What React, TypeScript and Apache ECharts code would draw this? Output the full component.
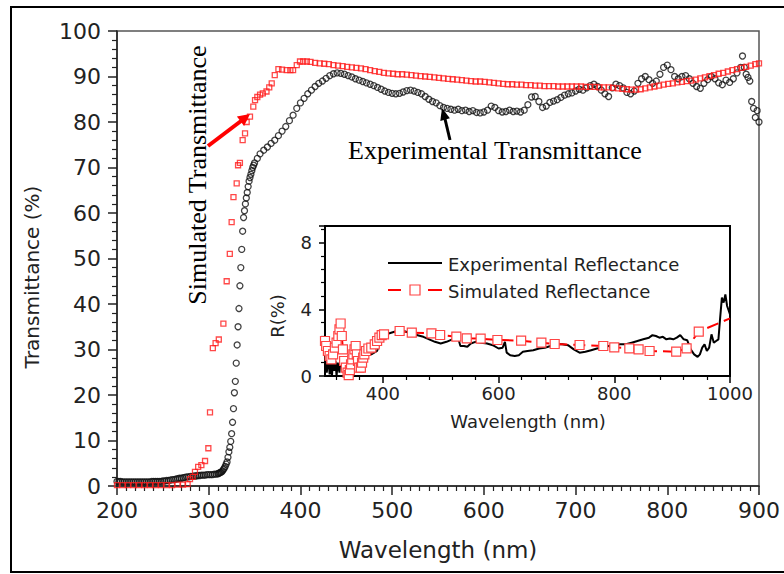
import React, { useEffect, useRef } from 'react';
import * as echarts from 'echarts';

// ---------- Data ----------
// Main panel: experimental transmittance [wavelength nm, T %]
const expTransmittance: [number, number][] = [
  [200, 1.0], [202, 1.0], [204, 1.0], [206, 0.9], [208, 0.9], [210, 0.9], [212, 0.9], [214, 0.9],
  [216, 0.9], [218, 0.9], [220, 0.9], [222, 0.9], [224, 0.9], [226, 0.9], [228, 0.9], [230, 0.9],
  [232, 0.9], [234, 0.9], [236, 0.9], [238, 1.0], [240, 1.0], [242, 1.0], [244, 1.0], [246, 1.0],
  [248, 1.0], [250, 1.1], [252, 1.1], [254, 1.2], [256, 1.2], [258, 1.3], [260, 1.4], [262, 1.4],
  [264, 1.5], [266, 1.6], [268, 1.7], [270, 1.7], [272, 1.8], [274, 1.9], [276, 2.0], [278, 2.0],
  [280, 2.1], [282, 2.1], [284, 2.2], [286, 2.2], [288, 2.3], [290, 2.3], [292, 2.4], [294, 2.4],
  [296, 2.4], [298, 2.5], [300, 2.5], [302, 2.5], [304, 2.5], [306, 2.6], [308, 2.6], [310, 2.7],
  [311, 2.8], [312, 2.9], [313, 3.0], [314, 3.1], [315, 3.3], [316, 3.6], [317, 3.9], [318, 4.3],
  [319, 4.8], [320, 5.3], [321, 6.3], [322, 7.5], [323, 8.5], [324, 9.8], [325, 11.5], [326, 14], [327, 17],
  [328, 20.5], [329, 23], [330, 27], [331, 31], [332, 35], [333, 39], [334, 44], [335, 48],
  [336, 52], [337, 56], [338, 59], [339, 60.5], [340, 62], [341, 63.3], [342, 64.5], [343, 65.8], [344, 67],
  [345, 67.8], [346, 68.5], [347, 69.3], [348, 70], [349, 70.5],
  [350, 71], [353, 72], [356, 73], [360, 73.8], [364, 74.5], [368, 75.3], [372, 76], [376, 77],
  [380, 78], [384, 79], [388, 80.3], [392, 81.5], [396, 83], [400, 84.2], [404, 85.2], [408, 86.2],
  [412, 87], [416, 87.8], [420, 88.5], [424, 89], [428, 89.6], [432, 90.2], [436, 90.6], [440, 90.8],
  [444, 90.7], [448, 90.5], [452, 90.2], [456, 89.9], [460, 89.5], [464, 89.2], [468, 88.9], [472, 88.6],
  [476, 88.3], [480, 88], [484, 87.6], [488, 87.2], [492, 86.8], [496, 86.5], [500, 86.3], [504, 86.2],
  [508, 86.3], [512, 86.6], [516, 86.9], [520, 87], [524, 86.8], [528, 86.5], [532, 86.2], [536, 85.6],
  [540, 85], [544, 84.5], [548, 84.2], [552, 83.6], [556, 83.2], [560, 83], [564, 82.8], [568, 82.6],
  [572, 82.8], [576, 82.5], [580, 82.6], [584, 82.3], [588, 82.5], [592, 82.1], [596, 82], [600, 82.2],
  [604, 82.6], [608, 83.5], [612, 83.2], [616, 82.5], [620, 82.2], [624, 82.3], [628, 82.6], [632, 82.3],
  [636, 82.4], [640, 82.2], [644, 82.6], [648, 83.8], [652, 85.5], [656, 85.6], [660, 84.5], [664, 83.2],
  [668, 83.5], [672, 84.3], [676, 84.6], [680, 84.9], [684, 85.4], [688, 85.9], [692, 86.2], [696, 86.4],
  [700, 86.8], [704, 87.2], [708, 87], [712, 87.5], [716, 88], [720, 88.3], [724, 87.8], [728, 87],
  [732, 86.2], [736, 85.6], [740, 87.5], [744, 88.3], [748, 88], [752, 87.5], [756, 86.5], [760, 86.2],
  [764, 86.8], [768, 88.5], [772, 89.5], [776, 90], [780, 89.3], [784, 88.5], [788, 89], [792, 90.5],
  [796, 92], [800, 92.5], [804, 91.5], [808, 90], [812, 89.5], [816, 90], [820, 90.2], [824, 89.5],
  [828, 88.5], [832, 87.8], [836, 87.4], [840, 88.5], [844, 89.3], [848, 90], [852, 89.5], [856, 88.6],
  [860, 88.2], [864, 89.2], [868, 88.7], [872, 89.5], [876, 90.8], [880, 92], [882, 94.5], [884, 92],
  [886, 90.5], [888, 89.8], [890, 89], [892, 84.5], [894, 83], [896, 81], [898, 82.5], [900, 80]
];

// Main panel: simulated transmittance [wavelength nm, T %]
const simTransmittance: [number, number][] = [
  [200, 0.2], [206, 0.2], [212, 0.2], [218, 0.2], [224, 0.2], [230, 0.2], [236, 0.2], [242, 0.2],
  [248, 0.2], [254, 0.2], [260, 0.2], [266, 0.3], [272, 0.3], [277, 0.4], [279.6, 1.5], [282.5, 2],
  [285, 3.1], [288.5, 4.2], [292, 4.6], [296, 5.5], [299.6, 8.3], [301.4, 16.2], [304.5, 30.3],
  [307.5, 31.4], [311, 32.2], [316, 35.7], [319.6, 45], [323, 51], [325, 58], [327, 63.5],
  [330.5, 66.5], [332, 70.5], [334, 71], [337, 76], [339.6, 77.5], [341.4, 80], [345, 81.2],
  [348.6, 83.4], [350.5, 84.8], [353, 85.5], [356, 86], [359, 86.3], [363, 86.7], [366, 87.6],
  [368.7, 88.5], [372, 90.3], [376, 91.6], [380, 91.5], [385, 91.4], [389, 91.4], [392, 91.4],
  [396, 92.5], [399.5, 93.3], [403, 93.3], [407, 93.3], [411, 93.2], [416, 93], [421, 92.9],
  [426, 92.8], [431, 92.7], [436, 92.5], [441, 92.4], [446, 92.3], [451, 92.1], [456, 92],
  [461, 91.9], [466, 91.8], [471, 91.6], [476, 91.4], [481, 91.2], [486, 91], [491, 90.8],
  [496, 90.7], [501, 90.6], [506, 90.5], [511, 90.5], [516, 90.4], [521, 90.3], [526, 90.2],
  [531, 90.1], [536, 90], [541, 89.9], [546, 89.8], [551, 89.7], [556, 89.6], [561, 89.5],
  [566, 89.4], [571, 89.3], [576, 89.2], [581, 89.1], [586, 89], [591, 88.9], [596, 88.9],
  [601, 88.8], [606, 88.7], [611, 88.6], [616, 88.5], [621, 88.4], [626, 88.3], [631, 88.3],
  [636, 88.2], [641, 88.2], [646, 88.1], [651, 88.1], [656, 88], [661, 88], [666, 87.9],
  [671, 87.9], [676, 87.9], [681, 87.8], [686, 87.8], [691, 87.8], [696, 87.8], [701, 87.8],
  [706, 87.8], [711, 87.7], [716, 87.7], [721, 87.7], [726, 87.6], [731, 87.6], [736, 87.6],
  [741, 87.5], [746, 87.4], [751, 87.3], [756, 87.2], [761, 87.1], [766, 87.1], [771, 87.2],
  [776, 87.4], [781, 87.6], [786, 87.8], [791, 88], [796, 88.2], [801, 88.4], [806, 88.5],
  [811, 88.7], [816, 88.8], [821, 89], [826, 89.1], [831, 89.3], [836, 89.6], [841, 89.8],
  [846, 90.1], [851, 90.3], [856, 90.6], [861, 90.8], [866, 91.1], [871, 91.4], [876, 91.6],
  [881, 91.9], [886, 92.1], [891, 92.4], [896, 92.7], [900, 92.9]
];

// Inset: experimental reflectance [wavelength nm, R %]
const expReflectance: [number, number][] = [
  [300, 1.0], [303, 0.2], [306, 1.1], [308, 0.1], [310, 0.8], [312, 0.0], [314, 1.0], [316, 0.3],
  [318, 0.9], [320, 0.0], [322, 0.8], [325, 0.2], [327, 1.1], [330, 0.4], [333, 0.8], [336, 0.3],
  [340, 0.5], [350, 0.9], [360, 1.1], [370, 1.25], [380, 1.3], [385, 1.4], [390, 1.5], [395, 2.0],
  [400, 2.45], [410, 2.55], [420, 2.65], [430, 2.75], [440, 2.65], [450, 2.55], [460, 2.45], [470, 2.35],
  [480, 2.2], [490, 2.05], [500, 1.95], [510, 2.05], [520, 2.2], [530, 2.3], [534, 1.8], [540, 1.8],
  [546, 1.75], [552, 1.95], [560, 2.05], [570, 2.0], [580, 1.95], [590, 1.85], [600, 1.65], [607, 1.7],
  [611, 2.05], [614, 1.4], [620, 1.25], [628, 1.2], [635, 1.25], [642, 1.45], [650, 1.5], [660, 1.55],
  [670, 1.65], [680, 1.7], [690, 1.8], [700, 1.9], [710, 1.9], [720, 1.85], [730, 1.6], [740, 1.4],
  [750, 1.45], [760, 1.55], [770, 1.65], [780, 1.7], [790, 1.8], [800, 1.85], [810, 1.9], [820, 1.9],
  [830, 2.0], [840, 2.1], [850, 2.2], [860, 2.3], [866, 2.45], [872, 2.4], [878, 2.3], [884, 2.35],
  [890, 2.2], [896, 2.25], [902, 2.2], [908, 2.3], [914, 2.45], [920, 2.2], [926, 2.15], [932, 1.6],
  [938, 1.3], [944, 1.15], [948, 1.3], [952, 1.7], [956, 1.9], [960, 1.5], [964, 1.7], [968, 2.5],
  [972, 2.0], [976, 2.1], [980, 2.2], [983, 3.5], [986, 4.7], [989, 4.4], [992, 4.9], [995, 4.2],
  [998, 3.9], [1000, 3.7]
];

// Inset: simulated reflectance [wavelength nm, R %]
const simReflectance: [number, number][] = [
  [300, 2.1], [302, 1.8], [305, 1.5], [308, 1.2], [311, 1.0], [314, 1.3], [317, 1.7], [320, 2.0],
  [323, 2.4], [325, 2.8], [327, 3.15], [329, 2.4], [331, 1.6], [333, 0.9], [336, 0.5], [339, 0.2],
  [341, 0.05], [343, 0.35], [345, 0.7], [347, 1.0], [349, 1.3], [351, 1.6], [353, 1.8], [355, 1.3],
  [357, 0.9], [359, 0.5], [362, 0.5], [364, 0.8], [366, 1.1], [368, 1.3], [371, 1.5], [375, 1.65],
  [380, 1.7], [386, 1.9], [390, 2.1], [394, 2.3], [398, 2.45], [402, 2.5], [429, 2.7], [450, 2.6],
  [484, 2.56], [499, 2.46], [527, 2.36], [545, 2.26], [569, 2.24], [598, 2.16], [639, 2.12], [674, 2.0],
  [697, 1.92], [740, 1.86], [781, 1.8], [800, 1.72], [826, 1.66], [842, 1.6], [861, 1.5], [907, 1.46],
  [925, 1.66], [946, 2.66], [1000, 3.46]
];

// Tick values
const insetXMajorTicks = [400, 600, 800, 1000];
const insetXMinorTicks = [320, 360, 440, 480, 520, 560, 640, 680, 720, 760, 840, 880, 920, 960];

const SANS = '"DejaVu Sans", Verdana, sans-serif';
const SERIF = '"Liberation Serif", "Times New Roman", serif';
const INK = '#222';

export default function App() {
  const ref = useRef<HTMLDivElement>(null);

  useEffect(() => {
    if (!ref.current) return;
    const chart = echarts.init(ref.current, undefined, { renderer: 'svg' });

    // last simulated-reflectance point is a line end without a square marker
    const simReflData = simReflectance.map((p, i) =>
      i === simReflectance.length - 1 ? { value: p, symbol: 'none' } : p
    );

    const option: any = {
      animation: false,
      backgroundColor: '#fff',
      grid: [
        { left: 117, top: 31, right: 25, bottom: 88, show: true, borderColor: '#555', borderWidth: 1.5 },
        { left: 325, top: 226, width: 405, height: 150, show: true, borderColor: '#000', borderWidth: 2, backgroundColor: '#fff', z: 5 }
      ],
      xAxis: [
        {
          gridIndex: 0, type: 'value', min: 200, max: 900, interval: 100,
          axisLine: { show: true, onZero: false, lineStyle: { color: INK, width: 1.5 } },
          axisTick: { show: true, length: 9, lineStyle: { color: INK, width: 1.5 } },
          minorTick: { show: true, splitNumber: 10, length: 5, lineStyle: { color: INK, width: 1.2 } },
          axisLabel: { fontSize: 22, fontFamily: SANS, color: INK, margin: 13 },
          splitLine: { show: false }, minorSplitLine: { show: false }
        },
        {
          gridIndex: 1, type: 'value', min: 300, max: 1000, position: 'bottom', z: 6,
          axisLine: { show: true, onZero: false, lineStyle: { color: '#000', width: 2 } },
          axisTick: { show: true, length: 7, customValues: insetXMajorTicks, lineStyle: { color: '#000', width: 1.5 } },
          axisLabel: {
            customValues: insetXMajorTicks, fontSize: 18, fontFamily: SANS, color: INK, margin: 8,
            formatter: (v: number) => String(v)
          },
          splitLine: { show: false }
        },
        {
          gridIndex: 1, type: 'value', min: 300, max: 1000, position: 'bottom', z: 6,
          axisLine: { show: false, onZero: false },
          axisTick: { show: true, length: 4, customValues: insetXMinorTicks, lineStyle: { color: '#000', width: 1.2 } },
          axisLabel: { show: false },
          splitLine: { show: false }
        }
      ],
      yAxis: [
        {
          gridIndex: 0, type: 'value', min: 0, max: 100, interval: 10,
          axisLine: { show: true, onZero: false, lineStyle: { color: INK, width: 1.5 } },
          axisTick: { show: true, length: 9, lineStyle: { color: INK, width: 1.5 } },
          minorTick: { show: true, splitNumber: 5, length: 5, lineStyle: { color: INK, width: 1.2 } },
          axisLabel: { fontSize: 22, fontFamily: SANS, color: INK, margin: 16 },
          splitLine: { show: false }, minorSplitLine: { show: false }
        },
        {
          gridIndex: 1, type: 'value', min: 0, max: 9, interval: 4, z: 6,
          axisLine: { show: true, onZero: false, lineStyle: { color: '#000', width: 2 } },
          axisTick: { show: true, length: 6, lineStyle: { color: '#000', width: 1.5 } },
          minorTick: { show: true, splitNumber: 5, length: 4, lineStyle: { color: '#000', width: 1.2 } },
          axisLabel: { fontSize: 18, fontFamily: SANS, color: INK, margin: 13 },
          splitLine: { show: false }, minorSplitLine: { show: false }
        }
      ],
      series: [
        {
          name: 'Experimental Transmittance', type: 'scatter', xAxisIndex: 0, yAxisIndex: 0,
          data: expTransmittance, symbol: 'circle', symbolSize: 6,
          itemStyle: { color: 'rgba(0,0,0,0)', borderColor: '#111', borderWidth: 1.3 }, z: 2
        },
        {
          name: 'Simulated Transmittance', type: 'scatter', xAxisIndex: 0, yAxisIndex: 0,
          data: simTransmittance, symbol: 'rect', symbolSize: 5,
          itemStyle: { color: 'rgba(255,0,0,0)', borderColor: '#ff1a1a', borderWidth: 1.3 }, z: 3
        },
        {
          name: 'Experimental Reflectance', type: 'line', xAxisIndex: 1, yAxisIndex: 1,
          data: expReflectance, symbol: 'none', showSymbol: false,
          lineStyle: { color: '#000', width: 2 }, z: 7
        },
        {
          name: 'Simulated Reflectance', type: 'line', xAxisIndex: 1, yAxisIndex: 1,
          data: simReflData, symbol: 'rect', symbolSize: 9, showSymbol: true, showAllSymbol: true,
          itemStyle: { color: '#fff', borderColor: '#f44', borderWidth: 1.2 },
          lineStyle: { color: '#ff0000', width: 2, type: [12, 6] }, z: 8
        }
      ],
      graphic: [
        // outer frame
        { type: 'rect', shape: { x: 11, y: 7, width: 790, height: 565 }, style: { fill: 'none', stroke: '#000', lineWidth: 2 }, z: 100, silent: true },
        // axis titles
        { type: 'text', x: 438, y: 550, style: { text: 'Wavelength (nm)', fontSize: 23, fontFamily: SANS, fill: INK, align: 'center', verticalAlign: 'middle' }, z: 100 },
        { type: 'text', x: 32, y: 277, rotation: Math.PI / 2, style: { text: 'Transmittance (%)', fontSize: 20, fontFamily: SANS, fill: INK, align: 'center', verticalAlign: 'middle' }, z: 100 },
        { type: 'text', x: 528, y: 421, style: { text: 'Wavelength (nm)', fontSize: 18, fontFamily: SANS, fill: INK, align: 'center', verticalAlign: 'middle' }, z: 100 },
        { type: 'text', x: 277, y: 316, rotation: Math.PI / 2, style: { text: 'R(%)', fontSize: 18, fontFamily: SANS, fill: INK, align: 'center', verticalAlign: 'middle' }, z: 100 },
        // annotations
        { type: 'text', x: 197, y: 175, rotation: Math.PI / 2, style: { text: 'Simulated Transmittance', fontSize: 26, fontFamily: SERIF, fill: '#000', align: 'center', verticalAlign: 'middle' }, z: 100 },
        { type: 'text', x: 348, y: 150, style: { text: 'Experimental Transmittance', fontSize: 26, fontFamily: SERIF, fill: '#000', align: 'left', verticalAlign: 'middle' }, z: 100 },
        // red arrow
        { type: 'line', shape: { x1: 208, y1: 146, x2: 241, y2: 121 }, style: { stroke: '#ff0000', lineWidth: 4 }, z: 100 },
        { type: 'polygon', shape: { points: [[250, 114], [244.1, 126.1], [236.9, 116.5]] }, style: { fill: '#ff0000' }, z: 100 },
        // black arrow
        { type: 'line', shape: { x1: 450, y1: 140, x2: 445, y2: 119 }, style: { stroke: '#000', lineWidth: 3 }, z: 100 },
        { type: 'polygon', shape: { points: [[442, 108], [449.9, 118.3], [440.3, 120.9]] }, style: { fill: '#000' }, z: 100 },
        // inset legend
        { type: 'line', shape: { x1: 388, y1: 263, x2: 442, y2: 263 }, style: { stroke: '#000', lineWidth: 2 }, z: 100 },
        { type: 'text', x: 448, y: 264, style: { text: 'Experimental Reflectance', fontSize: 18, fontFamily: SANS, fill: INK, align: 'left', verticalAlign: 'middle' }, z: 100 },
        { type: 'line', shape: { x1: 388, y1: 290, x2: 401, y2: 290 }, style: { stroke: '#ff0000', lineWidth: 2 }, z: 100 },
        { type: 'line', shape: { x1: 428, y1: 290, x2: 442, y2: 290 }, style: { stroke: '#ff0000', lineWidth: 2 }, z: 100 },
        { type: 'rect', shape: { x: 410, y: 285, width: 10, height: 10 }, style: { fill: '#fff', stroke: '#f44', lineWidth: 1.2 }, z: 100 },
        { type: 'text', x: 448, y: 291, style: { text: 'Simulated Reflectance', fontSize: 18, fontFamily: SANS, fill: INK, align: 'left', verticalAlign: 'middle' }, z: 100 }
      ]
    };

    chart.setOption(option);
    return () => chart.dispose();
  }, []);

  return (
    <div
      ref={ref}
      style={{ position: 'fixed', left: 0, top: 0, width: 784, height: 574, background: '#fff' }}
    />
  );
}
